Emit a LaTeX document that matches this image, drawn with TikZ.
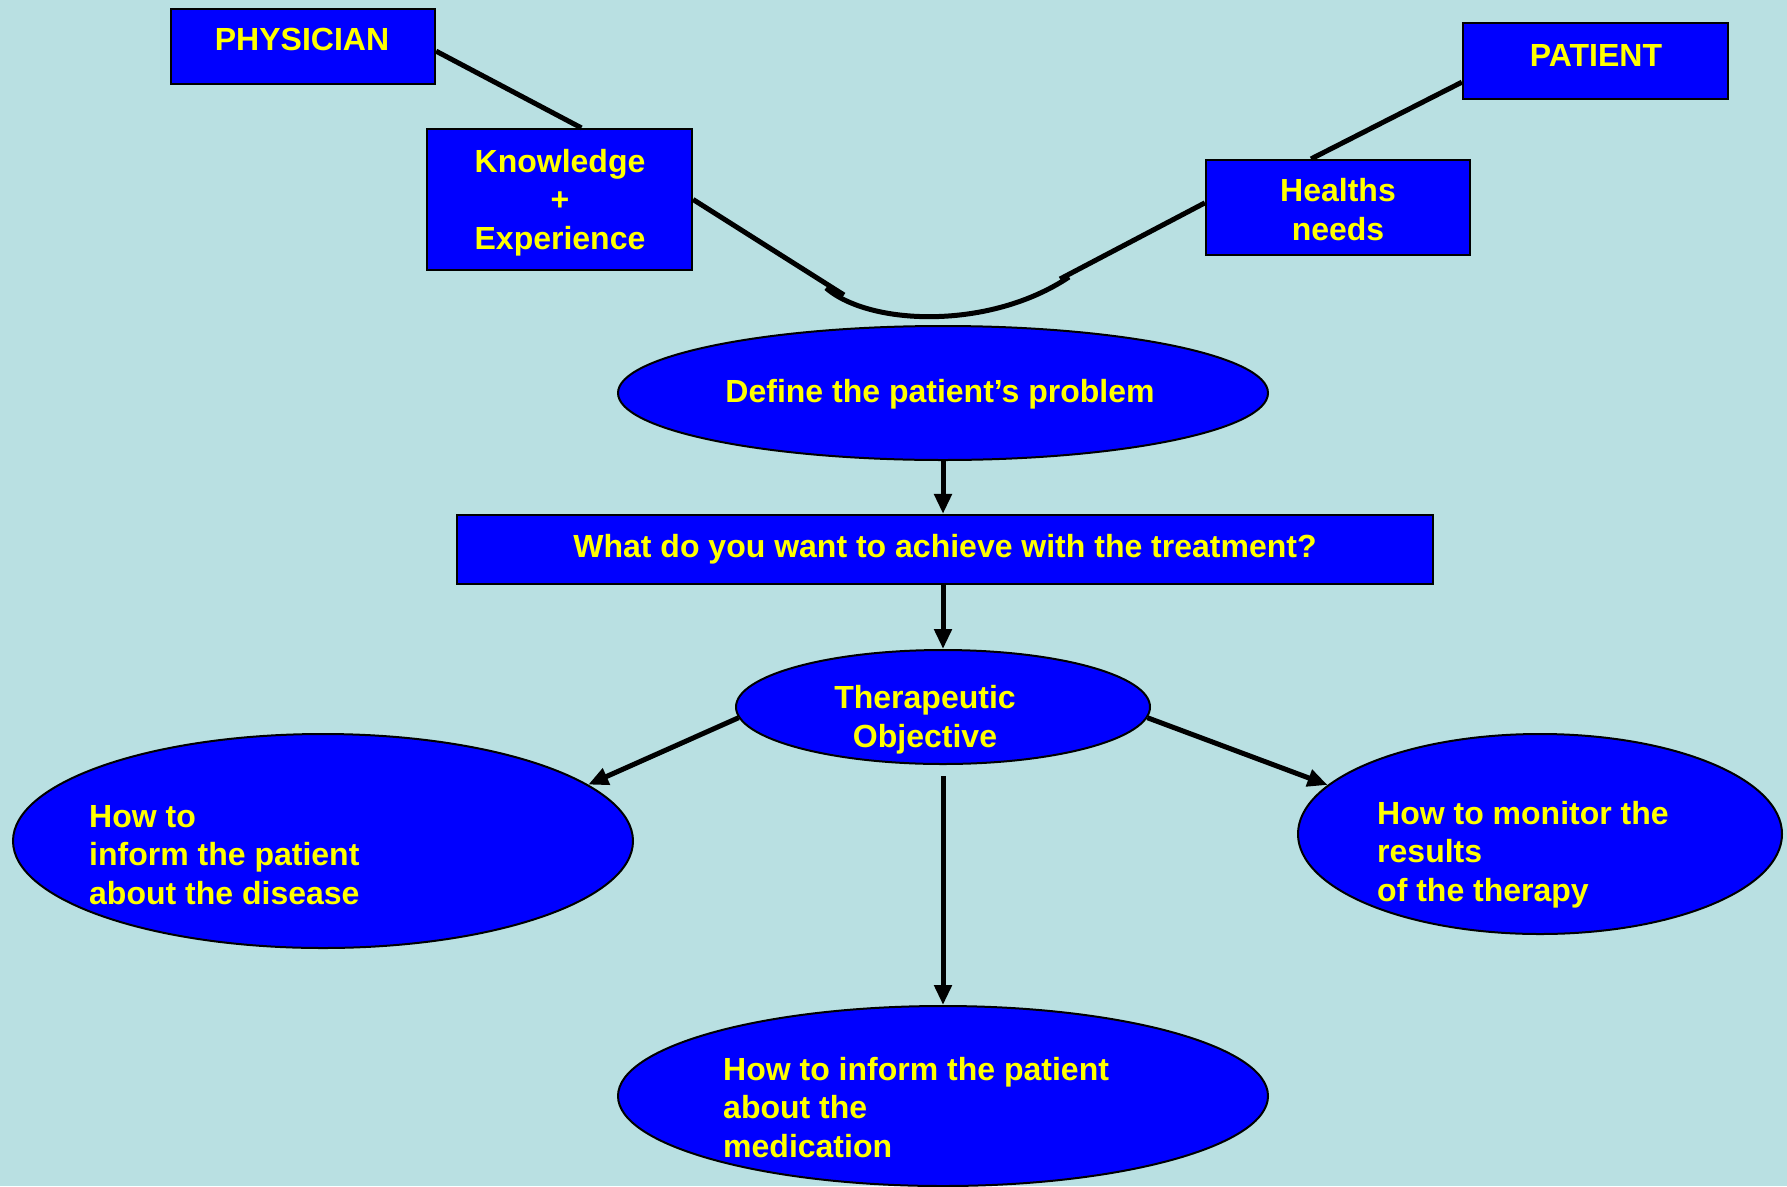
\documentclass[tikz,border=0pt]{standalone}
\usepackage{fontspec}
\setmainfont{Liberation Sans}
\usetikzlibrary{shapes.geometric,arrows.meta}
\definecolor{bg}{RGB}{185,224,226}
\definecolor{boxblue}{RGB}{0,0,255}
\definecolor{txt}{RGB}{255,255,0}
\begin{document}
\begin{tikzpicture}[x=1pt,y=-1pt,
 box/.style={draw=black,line width=2.2pt,fill=boxblue,inner sep=0pt},
 oval/.style={ellipse,draw=black,line width=2pt,fill=boxblue,inner sep=0pt},
 lbl/.style={text=txt,font=\fontsize{32}{38.5}\selectfont\bfseries,inner sep=0pt},
 conn/.style={line width=5pt},
 arr/.style={line width=5pt,-{Triangle[length=20pt,width=17pt]}}]
\fill[bg] (0,0) rectangle (1787,1186);
\useasboundingbox (0,0) rectangle (1787,1186);
% boxes
\node[box,minimum width=264pt,minimum height=75pt] (phys) at (303,46.5) {};
\node[box,minimum width=265pt,minimum height=76pt] (pat) at (1595.5,61) {};
\node[box,minimum width=265pt,minimum height=141pt] (know) at (559.5,199.5) {};
\node[box,minimum width=264pt,minimum height=95pt] (heal) at (1338,207.5) {};
\node[box,minimum width=976pt,minimum height=69pt] (what) at (945,549.5) {};
% ellipses
\node[oval,minimum width=650pt,minimum height=134pt] (def) at (943,393) {};
\node[oval,minimum width=414pt,minimum height=114pt] (ther) at (943,707) {};
\node[oval,minimum width=620pt,minimum height=214pt] (left) at (323,841) {};
\node[oval,minimum width=484pt,minimum height=200pt] (right) at (1540,834) {};
\node[oval,minimum width=650pt,minimum height=180pt] (bot) at (943,1096) {};
% texts (base anchor = baseline of last line)
\node[lbl,anchor=base] (physt) at (302,50) {PHYSICIAN};
\node[lbl,anchor=base] (patt) at (1596,66) {PATIENT};
\node[lbl,anchor=base,align=center] (knowt) at (560,249) {Knowledge\\+\\Experience};
\node[lbl,anchor=base,align=center] (healt) at (1338,240) {Healths\\needs};
\node[lbl,anchor=base] (deft) at (940,402) {Define the patient’s problem};
\node[lbl,anchor=base] (whatt) at (945,557) {What do you want to achieve with the treatment?};
\node[lbl,anchor=base,align=center] (thert) at (925,747) {Therapeutic\\Objective};
\node[lbl,anchor=base west,align=left] (leftt) at (89,904) {How to\\inform the patient\\about the disease};
\node[lbl,anchor=base west,align=left] (rightt) at (1377,901) {How to monitor the\\results\\of the therapy};
\node[lbl,anchor=base west,align=left] (bott) at (723,1157) {How to inform the patient\\about the\\medication};
% top connectors
\coordinate (c1) at (844,295);
\coordinate (c2) at (826,288);
\coordinate (c3) at (1069,277);
\coordinate (c4) at (1060,279);
\draw[conn] (phys.-2.4) -- (know.73);
\draw[conn] (pat.189.4) -- (heal.119.6);
\draw[conn] (know.east) -- (c1);
\draw[conn] (c2) .. controls (870,326) and (990,330) .. (c3);
\draw[conn] (c4) -- (heal.178);
% arrows
\draw[arr] (def.south) -- (def.south |- what.north);
\draw[arr] (ther.north |- what.south) -- (ther.north);
\draw[arr] (ther.183) -- (left.12);
\draw[arr] (ther.-3) -- (right.167);
\draw[arr,shorten <=11pt] (ther.south) -- (bot.north);
\end{tikzpicture}
\end{document}
